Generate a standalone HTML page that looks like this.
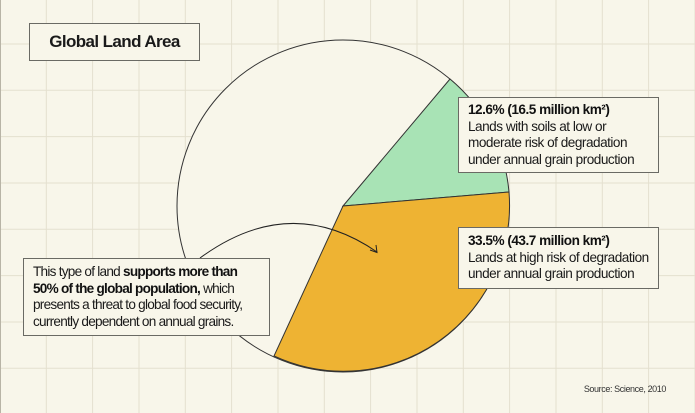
<!DOCTYPE html>
<html><head><meta charset="utf-8"><style>
html,body{margin:0;padding:0;}
body{width:695px;height:413px;background:#f8f6ea;position:relative;overflow:hidden;font-family:"Liberation Sans",sans-serif;color:#1a1a1a;}
svg{position:absolute;left:0;top:0;}
.box{position:absolute;background:#f8f6ea;border:1.3px solid #6a6a64;box-sizing:border-box;font-size:13.6px;line-height:16.5px;letter-spacing:-0.5px;}
b{font-weight:bold;color:#111;}
</style></head><body>
<svg width="695" height="413">
<g stroke="#e4e0cf" stroke-width="1">
<line x1="46.3" y1="0" x2="46.3" y2="413"/><line x1="92.6" y1="0" x2="92.6" y2="413"/><line x1="139" y1="0" x2="139" y2="413"/><line x1="185.3" y1="0" x2="185.3" y2="413"/><line x1="231.6" y1="0" x2="231.6" y2="413"/><line x1="278" y1="0" x2="278" y2="413"/><line x1="324.3" y1="0" x2="324.3" y2="413"/><line x1="370.6" y1="0" x2="370.6" y2="413"/><line x1="417" y1="0" x2="417" y2="413"/><line x1="463.3" y1="0" x2="463.3" y2="413"/><line x1="509.6" y1="0" x2="509.6" y2="413"/><line x1="556" y1="0" x2="556" y2="413"/><line x1="602.3" y1="0" x2="602.3" y2="413"/><line x1="648.6" y1="0" x2="648.6" y2="413"/><line x1="695" y1="0" x2="695" y2="413"/>
<line x1="0" y1="44" x2="695" y2="44"/><line x1="0" y1="90.3" x2="695" y2="90.3"/><line x1="0" y1="136.6" x2="695" y2="136.6"/><line x1="0" y1="183" x2="695" y2="183"/><line x1="0" y1="229.3" x2="695" y2="229.3"/><line x1="0" y1="275.6" x2="695" y2="275.6"/><line x1="0" y1="322" x2="695" y2="322"/><line x1="0" y1="368.3" x2="695" y2="368.3"/>
</g>
<line x1="0.5" y1="0" x2="0.5" y2="413" stroke="#b8b4a6" stroke-width="1"/>
<circle cx="343" cy="206" r="166" fill="#f8f6ea" stroke="#333" stroke-width="1"/>
<path d="M343,206 L450,79 A166,166 0 0 1 509,192 Z" fill="#a8e3b5" stroke="#333" stroke-width="1"/>
<path d="M343,206 L509,192 A166,166 0 0 1 274,356 Z" fill="#eeb333" stroke="#333" stroke-width="1"/>
<path d="M200,258 Q290,192 377,252" fill="none" stroke="#222" stroke-width="1"/>
<path d="M370,250 L377,252.5 L376,245" fill="none" stroke="#222" stroke-width="1"/>
<text x="666" y="392" font-size="9" text-anchor="end" fill="#333" letter-spacing="-0.4" font-family="Liberation Sans, sans-serif">Source: Science, 2010</text>
</svg>
<div class="box" style="left:29px;top:23px;width:171px;height:38px;font-size:17px;font-weight:bold;letter-spacing:-0.6px;line-height:36px;text-align:center;">Global Land Area</div>
<div class="box" style="left:458px;top:97px;width:201px;height:76px;padding:4px 0 0 9px;">
<b>12.6% (16.5 million km²)</b><br>Lands with soils at low or<br>moderate risk of degradation<br>under annual grain production</div>
<div class="box" style="left:458px;top:227px;width:201px;height:62px;padding:5px 0 0 9px;">
<b>33.5% (43.7 million km²)</b><br>Lands at high risk of degradation<br>under annual grain production</div>
<div class="box" style="left:23px;top:258px;width:247px;height:78px;padding:5px 0 0 9px;letter-spacing:-0.75px;">
This type of land <b>supports more than</b><br><b>50% of the global population,</b> which<br>presents a threat to global food security,<br>currently dependent on annual grains.</div>
</body></html>
